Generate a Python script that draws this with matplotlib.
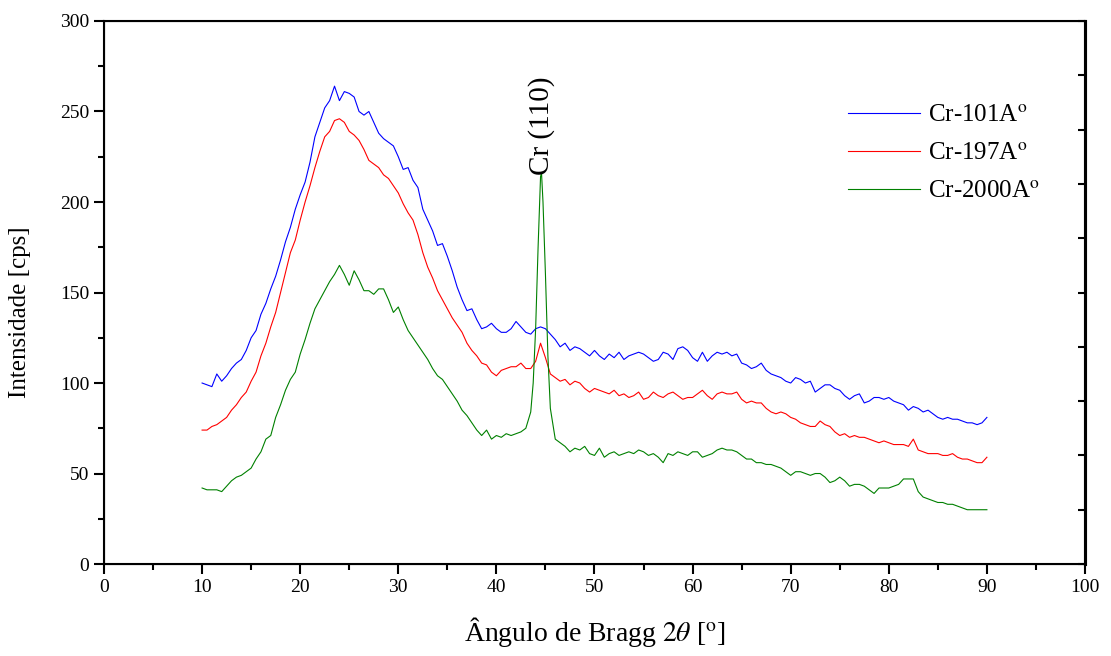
import numpy as np
import matplotlib
matplotlib.use("Agg")
import matplotlib.pyplot as plt

plt.rcParams['font.family'] = ['Liberation Serif', 'DejaVu Serif']
plt.rcParams['mathtext.fontset'] = 'stix'

# angulo 2theta, passo de 0.5 grau
two_theta = np.arange(10.0, 90.01, 0.5)

cr_101 = [100, 99, 98, 105, 101, 104, 108, 111, 113, 118,
          125, 129, 138, 144, 152, 159, 168, 178, 186, 196,
          204, 211, 222, 236, 244, 252, 256, 264, 256, 261,
          260, 258, 250, 248, 250, 244, 238, 235, 233, 231,
          225, 218, 219, 212, 208, 196, 190, 184, 176, 177,
          170, 162, 153, 146, 140, 141, 135, 130, 131, 133,
          130, 128, 128, 130, 134, 131, 128, 127, 130, 131,
          130, 127, 124, 120, 122, 118, 120, 119, 117, 115,
          118, 115, 113, 116, 114, 117, 113, 115, 116, 117,
          116, 114, 112, 113, 117, 116, 113, 119, 120, 118,
          114, 112, 117, 112, 115, 117, 116, 117, 115, 116,
          111, 110, 108, 109, 111, 107, 105, 104, 103, 101,
          100, 103, 102, 100, 101, 95, 97, 99, 99, 97,
          96, 93, 91, 93, 94, 89, 90, 92, 92, 91,
          92, 90, 89, 88, 85, 87, 86, 84, 85, 83,
          81, 80, 81, 80, 80, 79, 78, 78, 77, 78,
          81]

cr_197 = [74, 74, 76, 77, 79, 81, 85, 88, 92, 95,
          101, 106, 115, 122, 131, 139, 150, 161, 172, 179,
          190, 200, 209, 219, 228, 236, 239, 245, 246, 244,
          239, 237, 234, 229, 223, 221, 219, 215, 213, 209,
          205, 199, 194, 190, 182, 172, 164, 158, 151, 146,
          141, 136, 132, 128, 122, 118, 115, 111, 110, 106,
          104, 107, 108, 109, 109, 111, 108, 108, 112, 122,
          114, 105, 103, 101, 102, 99, 101, 100, 97, 95,
          97, 96, 95, 94, 96, 93, 94, 92, 93, 95,
          91, 92, 95, 93, 92, 94, 95, 93, 91, 92,
          92, 94, 96, 93, 91, 94, 95, 94, 94, 95,
          91, 89, 90, 89, 89, 86, 84, 83, 84, 83,
          81, 80, 78, 77, 76, 76, 79, 77, 76, 73,
          71, 72, 70, 71, 70, 70, 69, 68, 67, 68,
          67, 66, 66, 66, 65, 69, 63, 62, 61, 61,
          61, 60, 60, 61, 59, 58, 58, 57, 56, 56,
          59]

cr_2000 = [42, 41, 41, 41, 40, 43, 46, 48, 49, 51,
           53, 58, 62, 69, 71, 81, 88, 96, 102, 106,
           116, 124, 133, 141, 146, 151, 156, 160, 165, 160,
           154, 162, 157, 151, 151, 149, 152, 152, 146, 139,
           142, 135, 129, 125, 121, 117, 113, 108, 104, 102,
           98, 94, 90, 85, 82, 78, 74, 71, 74, 69,
           71, 70, 72, 71, 72, 73, 75, 84, 130, 214,
           160, 86, 69, 67, 65, 62, 64, 63, 65, 61,
           60, 64, 59, 61, 62, 60, 61, 62, 61, 63,
           62, 60, 61, 59, 56, 61, 60, 62, 61, 60,
           62, 62, 59, 60, 61, 63, 64, 63, 63, 62,
           60, 58, 58, 56, 56, 55, 55, 54, 53, 51,
           49, 51, 51, 50, 49, 50, 50, 48, 45, 46,
           48, 46, 43, 44, 44, 43, 41, 39, 42, 42,
           42, 43, 44, 47, 47, 47, 40, 37, 36, 35,
           34, 34, 33, 33, 32, 31, 30, 30, 30, 30,
           30]

# pontos extra no pico Cr (110)
pico_x = [43.75, 44.25, 44.6, 44.75, 45.25]
pico_y = [100, 175, 216, 200, 115]

x_green = np.concatenate([two_theta, pico_x])
y_green = np.concatenate([cr_2000, pico_y])
ordem = np.argsort(x_green)
x_green = x_green[ordem]
y_green = y_green[ordem]

fig = plt.figure(figsize=(11.11, 6.56), dpi=100)
ax = fig.add_axes([0.0936, 0.1402, 0.883, 0.8278])

ax.plot(two_theta, cr_101, color='#0000ff', lw=0.8, label=r'Cr-101A$^{\mathrm{o}}$')
ax.plot(two_theta, cr_197, color='#ff0000', lw=0.8, label=r'Cr-197A$^{\mathrm{o}}$')
ax.plot(x_green, y_green, color='#008000', lw=0.8, label=r'Cr-2000A$^{\mathrm{o}}$')

ax.text(44.6, 215, 'Cr (110)', rotation=90, ha='center', va='bottom', fontsize=21)

ax.set_xlim(0, 100)
ax.set_ylim(0, 300)
ax.set_xticks(range(0, 101, 10))
ax.set_xticks(range(5, 100, 10), minor=True)
ax.set_yticks(range(0, 301, 50))
ax.set_yticks(range(25, 300, 50), minor=True)
ax.tick_params(which='major', direction='out', length=7, width=1.5, labelsize=14)
ax.tick_params(which='minor', direction='out', length=4, width=1.5)
for s in ['left', 'bottom', 'top']:
    ax.spines[s].set_linewidth(1.5)
ax.spines['right'].set_linewidth(2.2)

# eixo da direita com marcas para dentro
ax2 = ax.twinx()
ax2.set_ylim(0, 300)
ax2.set_yticks(range(0, 301, 30))
ax2.tick_params(direction='in', length=5, width=1.5, labelright=False)
ax2.spines['right'].set_linewidth(2.2)

ax.set_xlabel(r'Ângulo de Bragg $2\theta$ [$^{\mathrm{o}}$]', fontsize=20, labelpad=14)
ax.set_ylabel('Intensidade [cps]', fontsize=18)
ax.yaxis.set_label_coords(-0.074, 0.464)

ax.legend(loc='upper left', bbox_to_anchor=(0.758, 0.847), frameon=False,
          fontsize=18, handlelength=2.9, handletextpad=0.3, labelspacing=0.62,
          borderaxespad=0, borderpad=0)

fig.savefig('out.png', dpi=100)
